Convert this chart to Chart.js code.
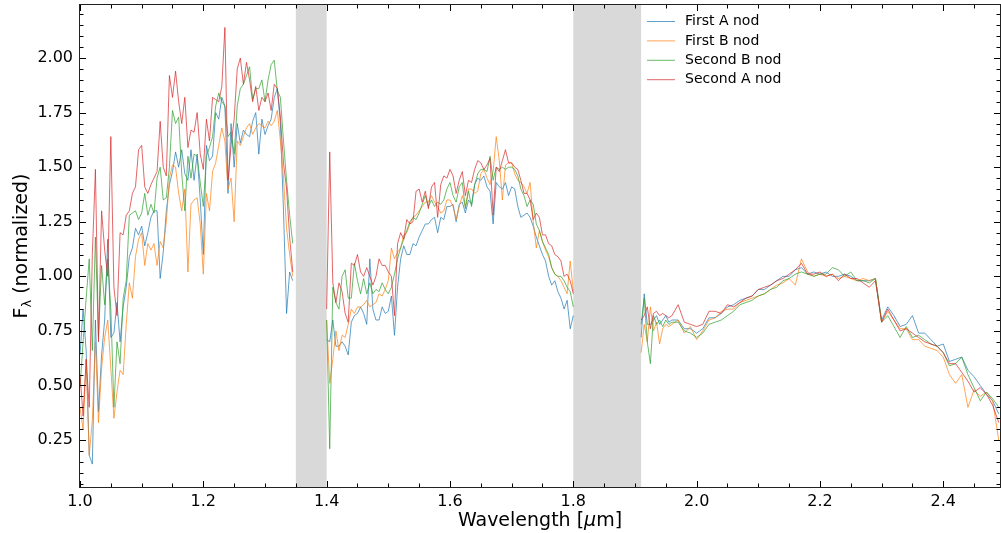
<!DOCTYPE html>
<html>
<head>
<meta charset="utf-8">
<script src="https://cdn.jsdelivr.net/npm/chart.js@4"></script>
<style>
  html, body { margin: 0; padding: 0; background: #fff; }
  #chart { display: block; }
</style>
</head>
<body>
<canvas id="chart" width="1001" height="533"></canvas>
<script>
const FONT = "DejaVu Sans";

// wavelength grids (micron) for the three bands
const wlJ = [1.000,1.005,1.010,1.015,1.020,1.025,1.030,1.035,1.040,1.045,
  1.050,1.055,1.060,1.065,1.070,1.075,1.080,1.085,1.090,1.095,
  1.100,1.105,1.110,1.115,1.120,1.125,1.130,1.135,1.140,1.145,
  1.150,1.155,1.160,1.165,1.170,1.175,1.180,1.185,1.190,1.195,
  1.200,1.205,1.210,1.215,1.220,1.225,1.230,1.235,1.240,1.245,
  1.250,1.255,1.260,1.265,1.270,1.275,1.280,1.285,1.290,1.295,
  1.300,1.305,1.310,1.315,1.320,1.325,1.330,1.335,1.340,1.345];
const wlH = [1.400,1.405,1.410,1.415,1.420,1.425,1.430,1.435,1.440,1.445,
  1.450,1.455,1.460,1.465,1.470,1.475,1.480,1.485,1.490,1.495,
  1.500,1.505,1.510,1.515,1.520,1.525,1.530,1.535,1.540,1.545,
  1.550,1.555,1.560,1.565,1.570,1.575,1.580,1.585,1.590,1.595,
  1.600,1.605,1.610,1.615,1.620,1.625,1.630,1.635,1.640,1.645,
  1.650,1.655,1.660,1.665,1.670,1.675,1.680,1.685,1.690,1.695,
  1.700,1.705,1.710,1.715,1.720,1.725,1.730,1.735,1.740,1.745,
  1.750,1.755,1.760,1.765,1.770,1.775,1.780,1.785,1.790,1.795,
  1.800];
const wlK = [1.910,1.915,1.920,1.925,1.930,1.935,1.940,1.945,1.950,1.955,1.960,
  1.97,1.98,1.99,2.00,2.01,2.02,2.03,2.04,2.05,2.06,
  2.07,2.08,2.09,2.10,2.11,2.12,2.13,2.14,2.15,2.16,
  2.17,2.18,2.19,2.20,2.21,2.22,2.23,2.24,2.25,2.26,
  2.27,2.28,2.29,2.30,2.31,2.32,2.33,2.34,2.35,2.36,
  2.37,2.38,2.39,2.40,2.41,2.42,2.43,2.44,2.45,2.46,
  2.47,2.48,2.49];

// First A nod
const firstA_J = [0.64,0.85,0.66,0.18,0.14,0.80,0.38,0.64,0.80,1.17,
  0.72,0.74,0.88,0.70,0.86,0.95,1.09,1.13,1.22,1.19,
  1.23,1.14,1.20,1.27,1.30,1.30,0.99,1.11,1.30,1.42,
  1.48,1.57,1.50,1.58,1.47,1.44,1.58,1.44,1.56,1.35,
  1.10,1.60,1.53,1.55,1.75,1.72,1.82,1.78,1.38,1.70,
  1.50,1.70,1.61,1.67,1.65,1.64,1.71,1.75,1.56,1.72,
  1.65,1.69,1.72,1.82,1.86,1.70,1.30,0.83,1.02,0.98];
const firstA_H = [0.71,0.70,0.80,0.68,0.68,0.70,0.68,0.64,0.79,0.82,
  0.83,0.86,0.83,0.78,1.08,0.85,0.80,0.80,0.86,0.83,
  0.84,0.91,0.73,0.95,1.08,1.14,1.10,1.10,1.15,1.14,
  1.18,1.21,1.24,1.24,1.26,1.27,1.20,1.27,1.26,1.32,
  1.32,1.33,1.25,1.33,1.34,1.29,1.35,1.33,1.42,1.45,
  1.44,1.46,1.41,1.39,1.24,1.43,1.41,1.40,1.43,1.37,
  1.41,1.40,1.32,1.27,1.28,1.29,1.27,1.23,1.18,1.14,
  1.10,1.07,1.00,0.96,0.98,0.93,0.90,0.85,0.89,0.76,
  0.82];
const firstA_K = [0.72,0.92,0.78,0.78,0.80,0.82,0.78,0.80,0.82,0.79,0.80,
  0.80,0.76,0.76,0.74,0.76,0.81,0.81,0.83,0.86,0.87,
  0.89,0.90,0.91,0.94,0.94,0.96,0.98,1.00,1.00,1.03,
  1.04,1.01,1.02,1.01,1.02,1.00,1.00,1.01,1.00,0.98,
  0.98,0.98,0.99,0.80,0.86,0.82,0.77,0.78,0.82,0.74,
  0.74,0.71,0.68,0.69,0.61,0.62,0.63,0.57,0.54,0.50,
  0.46,0.43,0.37];

// First B nod
const firstB_J = [0.40,0.30,0.62,0.18,0.34,0.70,0.33,0.58,0.72,0.80,
  0.58,0.35,0.47,0.57,0.55,0.78,0.97,0.90,1.09,1.17,
  1.20,1.05,1.15,1.12,1.15,1.05,1.16,1.13,1.25,1.45,
  1.51,1.50,1.38,1.30,1.40,1.02,1.33,1.35,1.36,1.24,
  1.01,1.38,1.30,1.48,1.52,1.60,1.68,1.62,1.40,1.45,
  1.25,1.62,1.60,1.64,1.68,1.70,1.65,1.68,1.70,1.69,
  1.68,1.71,1.69,1.71,1.76,1.62,1.45,1.22,1.10,1.00];
const firstB_H = [0.80,0.51,0.62,0.75,0.66,0.73,0.72,0.78,0.85,0.83,
  0.86,0.86,0.87,0.89,0.86,0.87,0.88,0.92,0.91,0.94,
  0.98,1.13,1.08,1.11,1.13,1.19,1.20,1.24,1.27,1.28,
  1.30,1.32,1.34,1.34,1.37,1.34,1.32,1.29,1.30,1.35,
  1.35,1.32,1.26,1.32,1.37,1.32,1.40,1.40,1.38,1.39,
  1.47,1.49,1.45,1.42,1.48,1.64,1.53,1.35,1.51,1.52,
  1.52,1.47,1.44,1.43,1.41,1.38,1.43,1.25,1.13,1.21,
  1.16,1.12,1.09,1.04,1.01,1.00,0.98,0.95,0.92,1.07,
  0.93];
const firstB_K = [0.65,0.78,0.70,0.86,0.75,0.79,0.69,0.76,0.78,0.77,0.78,
  0.80,0.74,0.77,0.71,0.75,0.80,0.81,0.84,0.85,0.85,
  0.88,0.89,0.90,0.91,0.92,0.94,0.96,0.97,0.99,0.96,
  1.08,1.02,1.00,1.01,1.00,1.01,0.99,1.00,0.99,0.98,
  0.99,0.98,0.99,0.79,0.84,0.80,0.76,0.76,0.71,0.71,
  0.68,0.67,0.66,0.63,0.55,0.51,0.55,0.40,0.48,0.45,
  0.47,0.43,0.25];

// Second B nod
const secondB_J = [0.49,0.70,0.90,1.08,0.66,1.18,0.72,1.05,0.87,1.08,
  0.85,0.40,0.70,0.60,0.90,0.98,1.28,1.29,1.30,1.26,
  1.29,1.38,1.28,1.33,1.29,1.45,1.50,1.35,1.36,1.50,
  1.76,1.70,1.73,1.47,1.30,1.55,1.45,1.56,1.55,1.43,
  1.32,1.55,1.59,1.64,1.78,1.84,1.80,1.78,1.64,1.66,
  1.56,1.78,1.86,1.88,1.92,1.96,1.81,1.86,1.86,1.90,
  1.80,1.90,1.97,1.99,1.85,1.82,1.62,1.44,1.28,1.15];
const secondB_H = [0.80,0.21,0.95,0.88,0.85,1.00,1.03,0.90,0.90,1.06,
  0.98,0.92,0.99,0.92,0.97,0.92,0.94,0.93,0.97,0.94,
  0.92,0.95,1.01,1.08,1.13,1.17,1.21,1.25,1.27,1.26,
  1.29,1.33,1.37,1.32,1.35,1.32,1.34,1.33,1.35,1.40,
  1.43,1.37,1.34,1.41,1.43,1.31,1.39,1.32,1.42,1.47,
  1.49,1.49,1.48,1.55,1.44,1.50,1.49,1.50,1.49,1.50,
  1.50,1.49,1.46,1.40,1.37,1.32,1.35,1.33,1.24,1.21,
  1.16,1.13,1.10,1.04,1.01,1.00,1.00,0.98,0.95,0.93,
  0.86];
const secondB_K = [0.78,0.90,0.70,0.60,0.82,0.78,0.80,0.77,0.80,0.78,0.79,
  0.79,0.75,0.74,0.72,0.74,0.78,0.79,0.80,0.82,0.84,
  0.87,0.88,0.89,0.91,0.92,0.94,0.95,0.98,0.99,1.01,
  1.02,1.01,1.00,1.01,1.01,1.04,1.03,1.00,1.02,0.98,
  0.98,0.97,0.99,0.79,0.82,0.77,0.72,0.77,0.72,0.73,
  0.71,0.69,0.68,0.65,0.59,0.60,0.63,0.55,0.49,0.43,
  0.47,0.44,0.40];

// Second A nod
const secondA_J = [0.55,0.36,0.62,0.40,1.10,1.49,0.70,1.30,1.12,1.00,
  1.64,0.95,0.82,1.20,1.19,1.28,1.30,1.38,1.41,1.58,
  1.60,1.41,1.38,1.42,1.45,1.48,1.71,1.50,1.46,1.92,
  1.82,1.94,1.80,1.70,1.82,1.59,1.67,1.66,1.75,1.56,
  1.49,1.72,1.62,1.82,1.81,1.80,1.87,2.14,1.44,1.60,
  1.72,1.95,2.00,1.88,1.98,1.90,1.80,1.87,1.76,1.82,
  1.80,1.84,1.76,1.88,1.86,1.73,1.52,1.40,1.18,1.02];
const secondA_H = [0.85,1.57,0.97,0.88,0.97,0.93,0.83,0.79,1.06,1.05,
  1.10,1.02,1.00,1.04,1.00,0.96,1.00,1.08,1.05,1.05,
  1.02,1.00,0.82,1.15,1.20,1.17,1.26,1.24,1.25,1.39,
  1.40,1.34,1.39,1.31,1.41,1.43,1.27,1.42,1.46,1.45,
  1.49,1.46,1.38,1.44,1.48,1.37,1.44,1.43,1.49,1.53,
  1.52,1.49,1.51,1.54,1.28,1.50,1.48,1.53,1.58,1.52,
  1.52,1.50,1.49,1.44,1.38,1.38,1.35,1.26,1.29,1.27,
  1.19,1.19,1.15,1.14,1.10,1.09,1.07,1.00,1.01,0.98,
  0.92];
const secondA_K = [0.80,0.82,0.86,0.76,0.83,0.84,0.82,0.83,0.82,0.81,0.82,
  0.87,0.79,0.78,0.77,0.78,0.84,0.84,0.83,0.87,0.86,
  0.88,0.90,0.91,0.94,0.95,0.96,0.98,0.99,1.01,1.03,
  1.06,1.01,1.01,1.02,1.00,1.01,0.98,1.01,0.99,0.99,
  0.97,0.95,0.98,0.79,0.85,0.80,0.75,0.76,0.74,0.72,
  0.70,0.69,0.68,0.65,0.60,0.60,0.56,0.52,0.47,0.49,
  0.46,0.41,0.33];

// telluric gaps (shaded) and axis ticks
const bands = [[1.35, 1.40], [1.80, 1.91]];
const xTicks = [1.0, 1.2, 1.4, 1.6, 1.8, 2.0, 2.2, 2.4];
const yTicks = [0.25, 0.50, 0.75, 1.00, 1.25, 1.50, 1.75, 2.00];
const X_MIN = 1.0, X_MAX = 2.492, Y_MIN = 0.035, Y_MAX = 2.243;

function spectrum(j, h, k) {
  const pts = [];
  wlJ.forEach((w, i) => pts.push({ x: w, y: j[i] }));
  pts.push({ x: (bands[0][0] + bands[0][1]) / 2, y: null });
  wlH.forEach((w, i) => pts.push({ x: w, y: h[i] }));
  pts.push({ x: (bands[1][0] + bands[1][1]) / 2, y: null });
  wlK.forEach((w, i) => pts.push({ x: w, y: k[i] }));
  return pts;
}

function line(label, color, data, order) {
  return {
    label: label,
    data: data,
    borderColor: color,
    borderWidth: 1,
    pointRadius: 0,
    tension: 0,
    spanGaps: false,
    order: order,
  };
}

// no auto padding for the edge labels, the chart area is fixed
function noPad(s) {
  s.paddingTop = 0;
  s.paddingBottom = 0;
  s.paddingLeft = 0;
  s.paddingRight = 0;
}

const deco = {
  id: "deco",
  beforeDatasetsDraw(chart) {
    const { ctx, chartArea: a, scales: { x } } = chart;
    ctx.save();
    ctx.fillStyle = "#d9d9d9";
    bands.forEach(([lo, hi]) => {
      const x0 = x.getPixelForValue(lo);
      const x1 = x.getPixelForValue(hi);
      ctx.fillRect(x0, a.top, x1 - x0, a.bottom - a.top);
    });
    ctx.restore();
  },
  afterDraw(chart) {
    const { ctx, chartArea: a, scales: { x, y } } = chart;
    ctx.save();
    ctx.strokeStyle = "#000";
    ctx.lineWidth = 1;

    // ticks, pointing inwards on every side
    const tick = (px, py, dx, dy) => {
      ctx.beginPath();
      ctx.moveTo(px, py);
      ctx.lineTo(px + dx, py + dy);
      ctx.stroke();
    };
    for (let i = 0; X_MIN + i * 0.05 <= X_MAX + 1e-9; i++) {
      const v = X_MIN + i * 0.05;
      const len = i % 4 === 0 ? 6 : 3.5;
      const px = Math.round(x.getPixelForValue(v)) + 0.5;
      tick(px, a.bottom, 0, -len);
      tick(px, a.top, 0, len);
    }
    for (let i = 1; i * 0.05 <= Y_MAX; i++) {
      const v = i * 0.05;
      if (v < Y_MIN) continue;
      const len = i % 5 === 0 ? 6 : 3.5;
      const py = Math.round(y.getPixelForValue(v)) + 0.5;
      tick(a.left, py, len, 0);
      tick(a.right, py, -len, 0);
    }

    // frame
    ctx.strokeStyle = "#222";
    ctx.strokeRect(a.left - 0.5, a.top - 0.5, a.right - a.left + 1, a.bottom - a.top + 1);

    // x title: Wavelength [µm] with italic mu
    ctx.fillStyle = "#000";
    ctx.textBaseline = "alphabetic";
    const up = "19px '" + FONT + "'";
    const it = "italic 19px '" + FONT + "'";
    const parts = [["Wavelength [", up], ["\u03bc", it], ["m]", up]];
    let w = 0;
    parts.forEach(([t, f]) => { ctx.font = f; w += ctx.measureText(t).width; });
    let cx = (a.left + a.right) / 2 - w / 2;
    parts.forEach(([t, f]) => {
      ctx.font = f;
      ctx.fillText(t, cx, 526);
      cx += ctx.measureText(t).width;
    });

    // y title: F_lambda (normalized)
    ctx.save();
    ctx.translate(27, (a.top + a.bottom) / 2);
    ctx.rotate(-Math.PI / 2);
    const sub = "13px '" + FONT + "'";
    const yparts = [["F", up, 0], ["\u03bb", sub, 4], [" (normalized)", up, 0]];
    w = 0;
    yparts.forEach(([t, f]) => { ctx.font = f; w += ctx.measureText(t).width; });
    cx = -w / 2;
    yparts.forEach(([t, f, dy]) => {
      ctx.font = f;
      ctx.fillText(t, cx, dy);
      cx += ctx.measureText(t).width;
    });
    ctx.restore();

    // legend inside the plot, upper right
    ctx.font = "14px '" + FONT + "'";
    ctx.textBaseline = "middle";
    chart.data.datasets.forEach((ds, i) => {
      const ly = a.top + 16.5 + i * 19.4;
      ctx.strokeStyle = ds.borderColor;
      ctx.lineWidth = 1;
      ctx.beginPath();
      ctx.moveTo(a.right - 353, ly);
      ctx.lineTo(a.right - 325, ly);
      ctx.stroke();
      ctx.fillStyle = "#000";
      ctx.fillText(ds.label, a.right - 315, ly);
    });
    ctx.restore();
  },
};

Chart.defaults.font.family = FONT;

new Chart(document.getElementById("chart"), {
  type: "line",
  data: {
    datasets: [
      line("First A nod", "rgba(31,119,180,0.7)", spectrum(firstA_J, firstA_H, firstA_K), 4),
      line("First B nod", "rgba(255,127,14,0.7)", spectrum(firstB_J, firstB_H, firstB_K), 3),
      line("Second B nod", "rgba(44,160,44,0.7)", spectrum(secondB_J, secondB_H, secondB_K), 2),
      line("Second A nod", "rgba(214,39,40,0.7)", spectrum(secondA_J, secondA_H, secondA_K), 1),
    ],
  },
  options: {
    responsive: false,
    animation: false,
    events: [],
    layout: { padding: { top: 5, right: 1, left: 0, bottom: 0 } },
    plugins: { legend: { display: false }, tooltip: { enabled: false } },
    scales: {
      x: {
        type: "linear",
        min: X_MIN,
        max: X_MAX,
        grid: { display: false, drawTicks: false },
        border: { display: false },
        afterBuildTicks: (s) => { s.ticks = xTicks.map((v) => ({ value: v })); },
        afterFit: (s) => { s.height = 46; noPad(s); },
        ticks: {
          color: "#000",
          font: { size: 16 },
          padding: 5,
          maxRotation: 0,
          autoSkip: false,
          callback: (v) => Number(v).toFixed(1),
        },
      },
      y: {
        type: "linear",
        min: Y_MIN,
        max: Y_MAX,
        grid: { display: false, drawTicks: false },
        border: { display: false },
        afterBuildTicks: (s) => { s.ticks = yTicks.map((v) => ({ value: v })); },
        afterFit: (s) => { s.width = 80; noPad(s); },
        ticks: {
          color: "#000",
          font: { size: 16 },
          padding: 7,
          callback: (v) => Number(v).toFixed(2),
        },
      },
    },
  },
  plugins: [deco],
});
</script>
</body>
</html>
